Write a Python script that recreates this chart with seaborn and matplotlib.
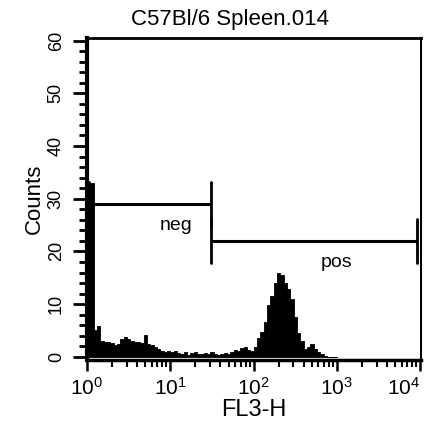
import numpy as np
import pandas as pd
import matplotlib
matplotlib.use("Agg")
import matplotlib.pyplot as plt
import matplotlib.ticker as mticker
import seaborn as sns

# histogram channels: 0.04-decade bins starting at 10^0
counts = [29, 33, 5.0, 5.8, 3.0, 2.8, 2.8, 2.6, 2.2, 2.4,
          3.4, 3.7, 3.4, 3.0, 2.8, 2.9, 2.7, 4.2, 2.5, 2.2,
          1.8, 1.5, 1.2, 1.0, 1.1, 1.0, 1.1, 0.8, 0.5, 0.9,
          0.4, 0.7, 1.0, 0.6, 0.5, 0.8, 0.5, 0.9, 0.6, 0.4,
          0.6, 0.7, 0.5, 1.0, 1.3, 1.2, 1.6, 1.9, 1.3, 1.2,
          1.8, 3.6, 4.8, 6.6, 9.9, 11.5, 14.0, 16.0, 15.5, 14.0,
          12.8, 11.0, 7.5, 4.5, 3.0, 1.5, 1.8, 2.4, 1.5, 0.9,
          0.6, 0.2, 0, 0, 0]
bin_width = 0.04

# gates (marker regions)
gate_names = ["neg", "pos"]
gate_lo = [1.06, 31.0]
gate_hi = [31.0, 9100.0]
gate_y = [29, 22]

title = "C57Bl/6 Spleen.014"
xlabel = "FL3-H"
ylabel = "Counts"
x_majors = [1, 10, 100, 1000, 10000]
x_labels = [r"$\mathregular{10^{0}}$", r"$\mathregular{10^{1}}$",
            r"$\mathregular{10^{2}}$", r"$\mathregular{10^{3}}$",
            r"$\mathregular{10^{4}}$"]
y_majors = [0, 10, 20, 30, 40, 50, 60]

centers = 10 ** (np.arange(len(counts)) * bin_width + bin_width / 2)
df = pd.DataFrame({"fl3": centers, "n": counts})

sns.set_style("ticks")
plt.rcParams["font.family"] = ["Liberation Sans", "DejaVu Sans"]
plt.rcParams.update({"text.color": "black", "axes.labelcolor": "black",
                     "xtick.color": "black", "ytick.color": "black"})

fig = plt.figure(figsize=(4.35, 4.30), dpi=100)
ax = fig.add_axes([87 / 435, 1 - 360 / 430, (421 - 87) / 435, (360 - 38) / 430])

sns.histplot(data=df, x="fl3", weights="n", log_scale=True,
             binwidth=bin_width, binrange=(0, bin_width * len(counts)),
             element="step", fill=True, color="black", alpha=1,
             linewidth=0.6, edgecolor="black", ax=ax)

# gate markers
bar_h = 4.2
for name, lo, hi, gy in zip(gate_names, gate_lo, gate_hi, gate_y):
    ax.plot([lo, hi], [gy, gy], color="black", lw=2.2, solid_capstyle="butt")
    ax.plot([lo, lo], [gy - bar_h, gy + bar_h], color="black", lw=2)
    ax.plot([hi, hi], [gy - bar_h, gy + bar_h], color="black", lw=2)
ax.text(10 ** 1.07, gate_y[0] - 2.4, gate_names[0], ha="center", va="top", fontsize=14)
ax.text(10 ** 3.0, gate_y[1] - 2.4, gate_names[1], ha="center", va="top", fontsize=14)

ax.set_xlim(1, 10 ** 4.01)
ax.set_ylim(-0.6, 60.5)
ax.set_xticks(x_majors)
ax.set_xticklabels(x_labels, fontsize=15)
ax.get_xticklabels()[-1].set_ha("right")
ax.xaxis.set_minor_locator(mticker.LogLocator(base=10, subs=np.arange(2, 10)))
ax.xaxis.set_minor_formatter(mticker.NullFormatter())
ax.set_yticks(y_majors)
ax.set_yticklabels([str(v) for v in y_majors], fontsize=13, rotation=90, va="center")
ax.yaxis.set_minor_locator(mticker.MultipleLocator(2))

ax.tick_params(axis="x", which="major", direction="out", length=8, width=1.8, pad=4)
ax.tick_params(axis="x", which="minor", direction="out", length=5, width=1.5)
ax.tick_params(axis="y", which="major", direction="out", length=10, width=2, pad=6)
ax.tick_params(axis="y", which="minor", direction="out", length=6, width=2)

for side, w in zip(["left", "bottom", "top", "right"], [3, 2.5, 2, 1.5]):
    ax.spines[side].set_visible(True)
    ax.spines[side].set_linewidth(w)
    ax.spines[side].set_color("black")

ax.set_xlabel(xlabel, fontsize=17, labelpad=0)
ax.set_ylabel(ylabel, fontsize=16, labelpad=2)
fig.text(230 / 435, 1 - 20 / 430, title, ha="center", va="center", fontsize=16)

fig.savefig("out.png", dpi=100)
